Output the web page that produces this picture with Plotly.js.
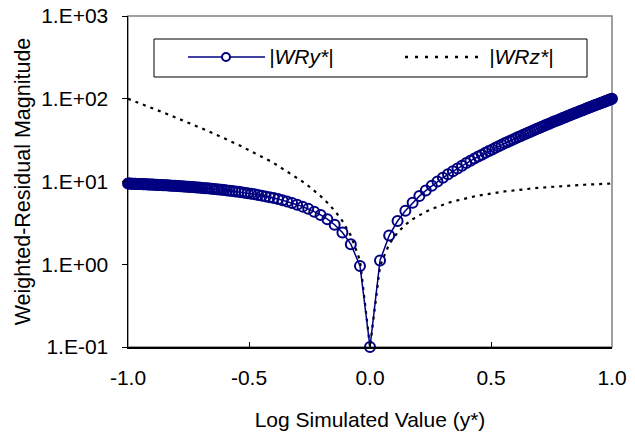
<!DOCTYPE html>
<html>
<head>
<meta charset="utf-8">
<script src="https://cdn.plot.ly/plotly-3.0.1.min.js"></script>
<style>
  html, body { margin: 0; padding: 0; background: #fff; }
  #chart { width: 635px; height: 433px; }
</style>
</head>
<body>
<div id="chart"></div>
<script>
// Log simulated value y*
const xVals = [
  -1.0, -0.9956, -0.9912, -0.9868, -0.9823, -0.9777, -0.9731, -0.9685, -0.9638, -0.9590,
  -0.9542, -0.9494, -0.9445, -0.9395, -0.9345, -0.9294, -0.9243, -0.9191, -0.9138, -0.9085,
  -0.9031, -0.8976, -0.8921, -0.8865, -0.8808, -0.8751, -0.8692, -0.8633, -0.8573, -0.8513,
  -0.8451, -0.8388, -0.8325, -0.8261, -0.8195, -0.8129, -0.8062, -0.7993, -0.7924, -0.7853,
  -0.7782, -0.7709, -0.7634, -0.7559, -0.7482, -0.7404, -0.7324, -0.7243, -0.7160, -0.7076,
  -0.6990, -0.6902, -0.6812, -0.6721, -0.6628, -0.6532, -0.6435, -0.6335, -0.6232, -0.6128,
  -0.6021, -0.5911, -0.5798, -0.5682, -0.5563, -0.5441, -0.5315, -0.5185, -0.5051, -0.4914,
  -0.4771, -0.4624, -0.4472, -0.4314, -0.4150, -0.3979, -0.3802, -0.3617, -0.3424, -0.3222,
  -0.3010, -0.2788, -0.2553, -0.2304, -0.2041, -0.1761, -0.1461, -0.1139, -0.0792, -0.0414,
  0.0,
  0.0414, 0.0792, 0.1139, 0.1461, 0.1761, 0.2041, 0.2304, 0.2553, 0.2788, 0.3010,
  0.3222, 0.3424, 0.3617, 0.3802, 0.3979, 0.4150, 0.4314, 0.4472, 0.4624, 0.4771,
  0.4914, 0.5051, 0.5185, 0.5315, 0.5441, 0.5563, 0.5682, 0.5798, 0.5911, 0.6021,
  0.6128, 0.6232, 0.6335, 0.6435, 0.6532, 0.6628, 0.6721, 0.6812, 0.6902, 0.6990,
  0.7076, 0.7160, 0.7243, 0.7324, 0.7404, 0.7482, 0.7559, 0.7634, 0.7709, 0.7782,
  0.7853, 0.7924, 0.7993, 0.8062, 0.8129, 0.8195, 0.8261, 0.8325, 0.8388, 0.8451,
  0.8513, 0.8573, 0.8633, 0.8692, 0.8751, 0.8808, 0.8865, 0.8921, 0.8976, 0.9031,
  0.9085, 0.9138, 0.9191, 0.9243, 0.9294, 0.9345, 0.9395, 0.9445, 0.9494, 0.9542,
  0.9590, 0.9638, 0.9685, 0.9731, 0.9777, 0.9823, 0.9868, 0.9912, 0.9956, 1.0
];

// |WRy*|
const wryVals = [
  9.45, 9.44, 9.43, 9.42, 9.41, 9.39, 9.38, 9.37, 9.36, 9.35,
  9.33, 9.32, 9.31, 9.29, 9.28, 9.26, 9.25, 9.23, 9.22, 9.20,
  9.19, 9.17, 9.15, 9.14, 9.12, 9.10, 9.08, 9.06, 9.04, 9.02,
  9.00, 8.98, 8.96, 8.93, 8.91, 8.88, 8.86, 8.83, 8.81, 8.78,
  8.75, 8.72, 8.69, 8.66, 8.63, 8.59, 8.56, 8.52, 8.48, 8.44,
  8.40, 8.36, 8.31, 8.27, 8.22, 8.17, 8.11, 8.06, 8.00, 7.94,
  7.88, 7.81, 7.74, 7.66, 7.58, 7.50, 7.41, 7.32, 7.22, 7.11,
  7.00, 6.88, 6.75, 6.61, 6.46, 6.30, 6.13, 5.93, 5.73, 5.50,
  5.25, 4.97, 4.67, 4.32, 3.94, 3.50, 3.00, 2.42, 1.75, 0.955,
  0.1,
  1.11, 2.22, 3.33, 4.44, 5.55, 6.66, 7.77, 8.88, 9.99, 11.1,
  12.2, 13.3, 14.4, 15.5, 16.7, 17.8, 18.9, 20.0, 21.1, 22.2,
  23.3, 24.4, 25.5, 26.6, 27.8, 28.9, 30.0, 31.1, 32.2, 33.3,
  34.4, 35.5, 36.6, 37.7, 38.9, 40.0, 41.1, 42.2, 43.3, 44.4,
  45.5, 46.6, 47.7, 48.8, 50.0, 51.1, 52.2, 53.3, 54.4, 55.5,
  56.6, 57.7, 58.8, 59.9, 61.1, 62.2, 63.3, 64.4, 65.5, 66.6,
  67.7, 68.8, 69.9, 71.0, 72.2, 73.3, 74.4, 75.5, 76.6, 77.7,
  78.8, 79.9, 81.0, 82.1, 83.3, 84.4, 85.5, 86.6, 87.7, 88.8,
  89.9, 91.0, 92.1, 93.2, 94.4, 95.5, 96.6, 97.7, 98.8, 99.9
];

// |WRz*|
const wrzVals = [
  99.9, 98.8, 97.7, 96.6, 95.5, 94.4, 93.2, 92.1, 91.0, 89.9,
  88.8, 87.7, 86.6, 85.5, 84.4, 83.3, 82.1, 81.0, 79.9, 78.8,
  77.7, 76.6, 75.5, 74.4, 73.3, 72.2, 71.0, 69.9, 68.8, 67.7,
  66.6, 65.5, 64.4, 63.3, 62.2, 61.1, 59.9, 58.8, 57.7, 56.6,
  55.5, 54.4, 53.3, 52.2, 51.1, 50.0, 48.8, 47.7, 46.6, 45.5,
  44.4, 43.3, 42.2, 41.1, 40.0, 38.9, 37.7, 36.6, 35.5, 34.4,
  33.3, 32.2, 31.1, 30.0, 28.9, 27.8, 26.6, 25.5, 24.4, 23.3,
  22.2, 21.1, 20.0, 18.9, 17.8, 16.7, 15.5, 14.4, 13.3, 12.2,
  11.1, 9.99, 8.88, 7.77, 6.66, 5.55, 4.44, 3.33, 2.22, 1.11,
  0.1,
  0.955, 1.75, 2.42, 3.00, 3.50, 3.94, 4.32, 4.67, 4.97, 5.25,
  5.50, 5.73, 5.93, 6.13, 6.30, 6.46, 6.61, 6.75, 6.88, 7.00,
  7.11, 7.22, 7.32, 7.41, 7.50, 7.58, 7.66, 7.74, 7.81, 7.88,
  7.94, 8.00, 8.06, 8.11, 8.17, 8.22, 8.27, 8.31, 8.36, 8.40,
  8.44, 8.48, 8.52, 8.56, 8.59, 8.63, 8.66, 8.69, 8.72, 8.75,
  8.78, 8.81, 8.83, 8.86, 8.88, 8.91, 8.93, 8.96, 8.98, 9.00,
  9.02, 9.04, 9.06, 9.08, 9.10, 9.12, 9.14, 9.15, 9.17, 9.19,
  9.20, 9.22, 9.23, 9.25, 9.26, 9.28, 9.29, 9.31, 9.32, 9.33,
  9.35, 9.36, 9.37, 9.38, 9.39, 9.41, 9.42, 9.43, 9.44, 9.45
];

const seriesNames = ['|WRy*|', '|WRz*|'];
const yTickVals = [0.1, 1, 10, 100, 1000];
const yTickText = ['1.E-01', '1.E+00', '1.E+01', '1.E+02', '1.E+03'];
const xTickVals = [-1.0, -0.5, 0.0, 0.5, 1.0];
const xTickText = ['-1.0', '-0.5', '0.0', '0.5', '1.0'];

const FONT = 'Liberation Sans, Arial, sans-serif';
const NAVY = '#000080';
const FS = 21;

const traces = [
  {
    x: xVals, y: wrzVals, name: seriesNames[1], type: 'scatter', mode: 'lines',
    line: { color: '#000000', width: 2.2, dash: '3px,5px' },
    cliponaxis: false, showlegend: false, hoverinfo: 'skip'
  },
  {
    x: xVals, y: wryVals, name: seriesNames[0], type: 'scatter', mode: 'lines+markers',
    line: { color: NAVY, width: 1.5 },
    marker: { symbol: 'circle-open', size: 10, color: NAVY, line: { color: NAVY, width: 2 } },
    cliponaxis: false, showlegend: false, hoverinfo: 'skip'
  }
];

// plot area in px: left 128, right 612, top 16, bottom 347
const L = 128, R = 612, T = 16, B = 347;
const px = v => (v - L) / (R - L);
const py = v => (B - v) / (B - T);

const layout = {
  width: 635, height: 433,
  margin: { l: L, r: 635 - R, t: T, b: 433 - B },
  paper_bgcolor: '#ffffff', plot_bgcolor: '#ffffff',
  font: { family: FONT, size: FS, color: '#000' },
  showlegend: false,
  xaxis: {
    range: [-1, 1], tickvals: xTickVals, ticktext: xTickText,
    ticks: 'inside', ticklen: 5, tickcolor: '#000', tickwidth: 1,
    showline: true, linecolor: '#000', linewidth: 1.5,
    showgrid: false, zeroline: false,
    tickfont: { family: FONT, size: FS, color: '#000' },
    ticklabelstandoff: 11,
    title: { text: 'Log Simulated Value (y*)', font: { family: FONT, size: FS, color: '#000' }, standoff: 24 }
  },
  yaxis: {
    type: 'log', range: [-1, 3], tickvals: yTickVals, ticktext: yTickText,
    ticks: 'outside', ticklen: 5, tickcolor: '#000', tickwidth: 1,
    showline: true, linecolor: '#000', linewidth: 1.5,
    showgrid: false, zeroline: false,
    tickfont: { family: FONT, size: FS, color: '#000' },
    ticklabelstandoff: 9,
    title: { text: 'Weighted-Residual Magnitude', font: { family: FONT, size: 21.5, color: '#000' }, standoff: 4 }
  },
  shapes: [
    { type: 'rect', xref: 'paper', yref: 'paper', x0: 0, x1: 1, y0: 0, y1: 1,
      line: { color: '#808080', width: 1.5 }, layer: 'below' },
    { type: 'rect', xref: 'paper', yref: 'paper', x0: px(154), x1: px(587), y0: py(77), y1: py(39),
      line: { color: '#000', width: 1 }, fillcolor: '#ffffff', layer: 'above' },
    { type: 'line', xref: 'paper', yref: 'paper', x0: px(188), x1: px(265), y0: py(57), y1: py(57),
      line: { color: NAVY, width: 1.5 } },
    { type: 'circle', xref: 'paper', yref: 'paper', x0: px(222), x1: px(230), y0: py(61), y1: py(53),
      line: { color: NAVY, width: 2 }, fillcolor: '#ffffff' },
    { type: 'line', xref: 'paper', yref: 'paper', x0: px(405), x1: px(481), y0: py(57), y1: py(57),
      line: { color: '#000', width: 2.5, dash: '3px,7px' } }
  ],
  annotations: [
    { xref: 'paper', yref: 'paper', x: px(267), y: py(57), xanchor: 'left', yanchor: 'middle',
      text: '<i>' + seriesNames[0] + '</i>', showarrow: false,
      font: { family: FONT, size: 21, color: '#000' } },
    { xref: 'paper', yref: 'paper', x: px(487), y: py(57), xanchor: 'left', yanchor: 'middle',
      text: '<i>' + seriesNames[1] + '</i>', showarrow: false,
      font: { family: FONT, size: 21, color: '#000' } }
  ]
};

Plotly.newPlot('chart', traces, layout, { staticPlot: true, displayModeBar: false });
</script>
</body>
</html>
